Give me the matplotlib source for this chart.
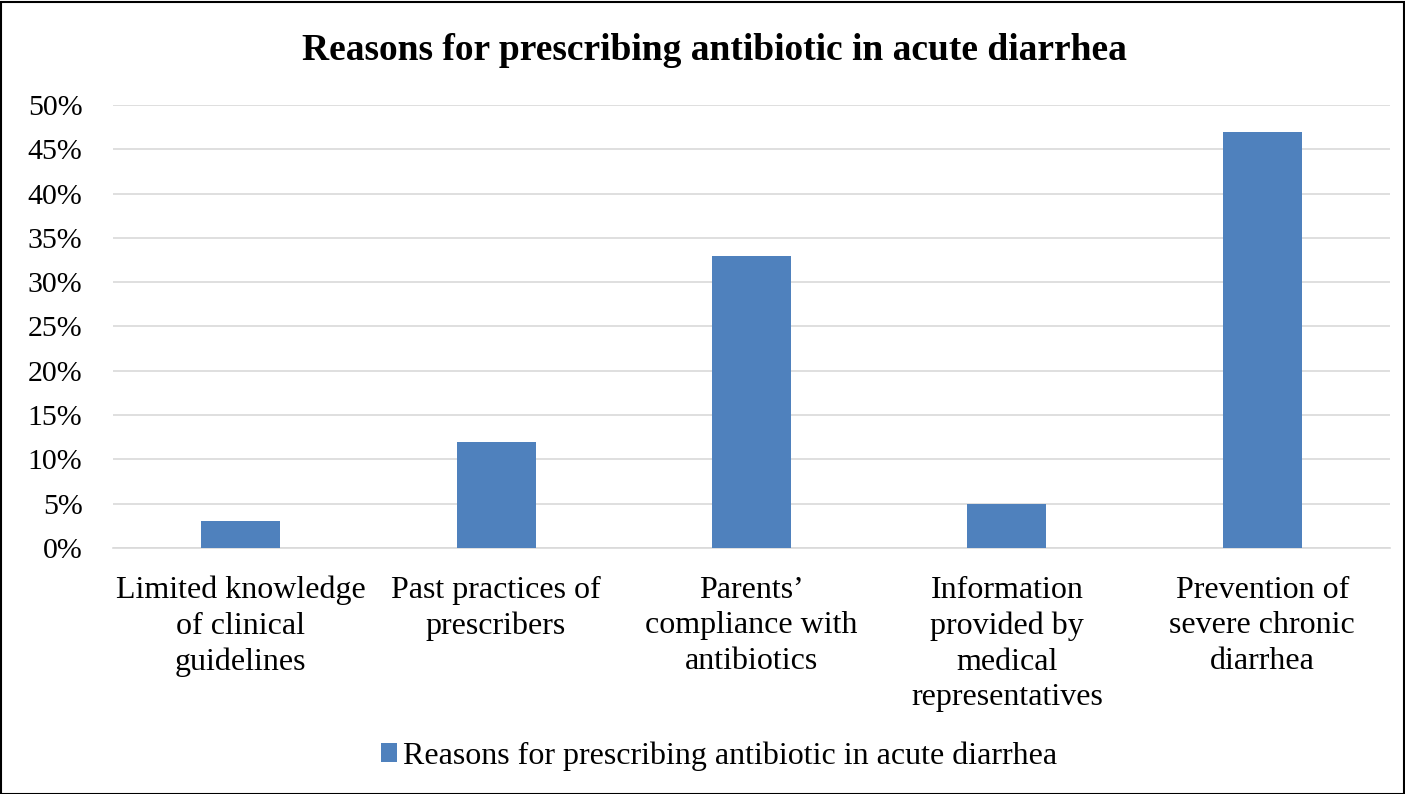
import matplotlib.pyplot as plt
from matplotlib.patches import Rectangle

categories = ["Limited knowledge\nof clinical\nguidelines",
              "Past practices of\nprescribers",
              "Parents\u2019\ncompliance with\nantibiotics",
              "Information\nprovided by\nmedical\nrepresentatives",
              "Prevention of\nsevere chronic\ndiarrhea"]
values = [3, 12, 33, 5, 47]
yticks = [0, 5, 10, 15, 20, 25, 30, 35, 40, 45, 50]
title = "Reasons for prescribing antibiotic in acute diarrhea"

plt.rcParams['font.family'] = ['Liberation Serif', 'DejaVu Serif']

fig = plt.figure(figsize=(14.05, 7.94), dpi=100)
ax = fig.add_axes([113 / 1405, 1 - 548 / 794, (1390 - 113) / 1405, (548 - 105) / 794])

x = range(len(categories))
ax.bar(x, values, width=0.31, color='#4f81bd', label=title, zorder=3)

ax.set_xlim(-0.5, len(categories) - 0.5)
ax.set_ylim(0, 50)
ax.set_yticks(yticks)
ax.set_yticklabels([f"{v}%" for v in yticks], fontsize=21.5)
ax.set_xticks(list(x))
ax.set_xticklabels(categories, fontsize=23, linespacing=1.3, va='top')
ax.tick_params(axis='both', length=0)
ax.tick_params(axis='y', pad=22)
ax.tick_params(axis='x', pad=20)
ax.yaxis.grid(True, color='#d9d9d9', linewidth=1.2, zorder=0)
for s in ['top', 'right', 'left']:
    ax.spines[s].set_visible(False)
ax.spines['bottom'].set_color('#d9d9d9')
ax.spines['bottom'].set_linewidth(1.2)

fig.text(714 / 1405, 1 - 50 / 794, title, ha='center', va='center',
         fontsize=27, fontweight='bold')

fig.legend(loc='center', bbox_to_anchor=(719 / 1405, 1 - 756 / 794), frameon=False,
           fontsize=23, handlelength=0.5, handleheight=0.5, handletextpad=0.2)

fig.patches.append(Rectangle((0.5 / 1405, 0.5 / 794), 1 - 2 / 1405, 1 - 2 / 794,
                             transform=fig.transFigure, fill=False,
                             edgecolor='black', linewidth=1.5))

fig.savefig("out.png", dpi=100)
